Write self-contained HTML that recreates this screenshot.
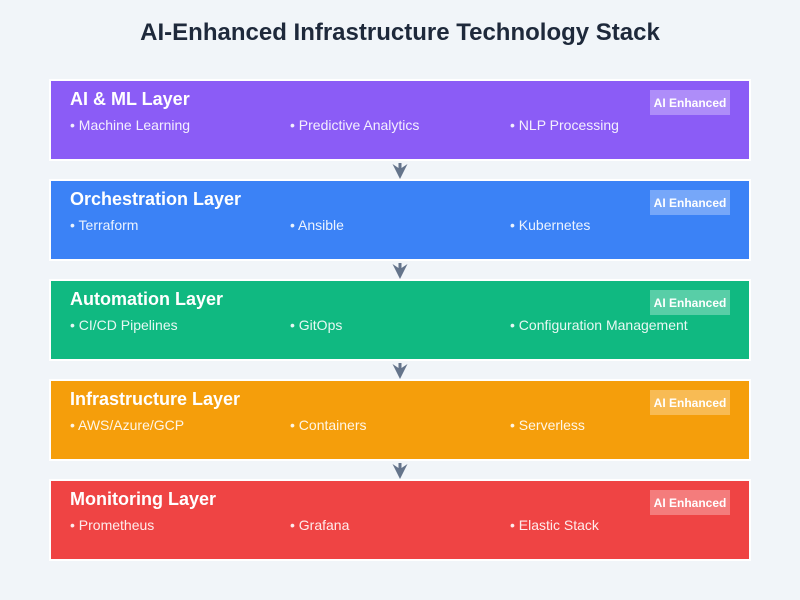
<!DOCTYPE html>
<html><head><meta charset="utf-8"><style>
html,body{margin:0;padding:0;background:#f1f5f9;}
svg{display:block;}
text{font-family:"Liberation Sans",Arial,sans-serif;}
</style></head><body>
<svg width="800" height="600" viewBox="0 0 800 600" xmlns="http://www.w3.org/2000/svg">
<rect width="800" height="600" fill="#f1f5f9"/>
<text x="400" y="40" text-anchor="middle" font-size="24" font-weight="bold" fill="#1e293b">AI-Enhanced Infrastructure Technology Stack</text>

<g>
<rect x="50" y="80" width="700" height="80" fill="#8b5cf6" stroke="#ffffff" stroke-width="2"/>
<text x="70" y="105" font-size="18" font-weight="bold" fill="#ffffff">AI &amp; ML Layer</text>
<text x="70" y="130" font-size="14" fill="#ffffff" fill-opacity="0.9">• Machine Learning</text>
<text x="290" y="130" font-size="14" fill="#ffffff" fill-opacity="0.9">• Predictive Analytics</text>
<text x="510" y="130" font-size="14" fill="#ffffff" fill-opacity="0.9">• NLP Processing</text>
<rect x="650" y="90" width="80" height="25" fill="#ffffff" fill-opacity="0.3"/>
<text x="690" y="107" text-anchor="middle" font-size="12" font-weight="bold" fill="#ffffff">AI Enhanced</text>
</g>

<g>
<rect x="50" y="180" width="700" height="80" fill="#3b82f6" stroke="#ffffff" stroke-width="2"/>
<text x="70" y="205" font-size="18" font-weight="bold" fill="#ffffff">Orchestration Layer</text>
<text x="70" y="230" font-size="14" fill="#ffffff" fill-opacity="0.9">• Terraform</text>
<text x="290" y="230" font-size="14" fill="#ffffff" fill-opacity="0.9">• Ansible</text>
<text x="510" y="230" font-size="14" fill="#ffffff" fill-opacity="0.9">• Kubernetes</text>
<rect x="650" y="190" width="80" height="25" fill="#ffffff" fill-opacity="0.3"/>
<text x="690" y="207" text-anchor="middle" font-size="12" font-weight="bold" fill="#ffffff">AI Enhanced</text>
</g>

<g>
<rect x="50" y="280" width="700" height="80" fill="#10b981" stroke="#ffffff" stroke-width="2"/>
<text x="70" y="305" font-size="18" font-weight="bold" fill="#ffffff">Automation Layer</text>
<text x="70" y="330" font-size="14" fill="#ffffff" fill-opacity="0.9">• CI/CD Pipelines</text>
<text x="290" y="330" font-size="14" fill="#ffffff" fill-opacity="0.9">• GitOps</text>
<text x="510" y="330" font-size="14" fill="#ffffff" fill-opacity="0.9">• Configuration Management</text>
<rect x="650" y="290" width="80" height="25" fill="#ffffff" fill-opacity="0.3"/>
<text x="690" y="307" text-anchor="middle" font-size="12" font-weight="bold" fill="#ffffff">AI Enhanced</text>
</g>

<g>
<rect x="50" y="380" width="700" height="80" fill="#f59e0b" stroke="#ffffff" stroke-width="2"/>
<text x="70" y="405" font-size="18" font-weight="bold" fill="#ffffff">Infrastructure Layer</text>
<text x="70" y="430" font-size="14" fill="#ffffff" fill-opacity="0.9">• AWS/Azure/GCP</text>
<text x="290" y="430" font-size="14" fill="#ffffff" fill-opacity="0.9">• Containers</text>
<text x="510" y="430" font-size="14" fill="#ffffff" fill-opacity="0.9">• Serverless</text>
<rect x="650" y="390" width="80" height="25" fill="#ffffff" fill-opacity="0.3"/>
<text x="690" y="407" text-anchor="middle" font-size="12" font-weight="bold" fill="#ffffff">AI Enhanced</text>
</g>

<g>
<rect x="50" y="480" width="700" height="80" fill="#ef4444" stroke="#ffffff" stroke-width="2"/>
<text x="70" y="505" font-size="18" font-weight="bold" fill="#ffffff">Monitoring Layer</text>
<text x="70" y="530" font-size="14" fill="#ffffff" fill-opacity="0.9">• Prometheus</text>
<text x="290" y="530" font-size="14" fill="#ffffff" fill-opacity="0.9">• Grafana</text>
<text x="510" y="530" font-size="14" fill="#ffffff" fill-opacity="0.9">• Elastic Stack</text>
<rect x="650" y="490" width="80" height="25" fill="#ffffff" fill-opacity="0.3"/>
<text x="690" y="507" text-anchor="middle" font-size="12" font-weight="bold" fill="#ffffff">AI Enhanced</text>
</g>

<g fill="#64748b" stroke="#64748b">
<line x1="400" y1="163" x2="400" y2="172" stroke-width="3"/>
<path d="M392.5,164 L400,179 L407.5,164 L400,169 Z" stroke="none"/>
<line x1="400" y1="263" x2="400" y2="272" stroke-width="3"/>
<path d="M392.5,264 L400,279 L407.5,264 L400,269 Z" stroke="none"/>
<line x1="400" y1="363" x2="400" y2="372" stroke-width="3"/>
<path d="M392.5,364 L400,379 L407.5,364 L400,369 Z" stroke="none"/>
<line x1="400" y1="463" x2="400" y2="472" stroke-width="3"/>
<path d="M392.5,464 L400,479 L407.5,464 L400,469 Z" stroke="none"/>
</g>
</svg>
</body></html>
